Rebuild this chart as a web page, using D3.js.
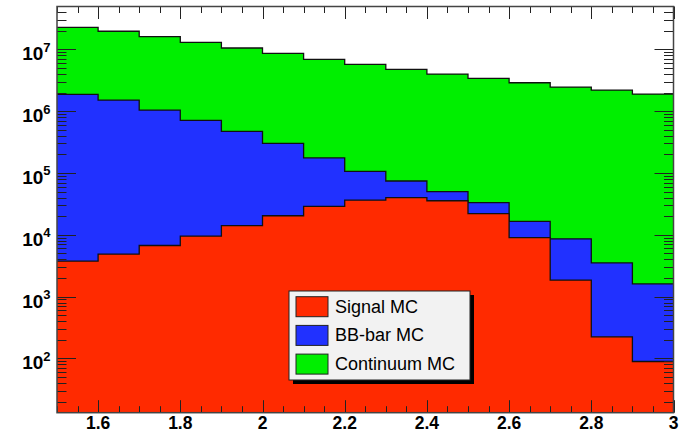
<!DOCTYPE html>
<html><head><meta charset="utf-8">
<script src="https://cdn.jsdelivr.net/npm/d3@7/dist/d3.min.js"></script>
<style>html,body{margin:0;padding:0;background:#fff;} svg{display:block;}</style>
</head><body><div id="chart"></div>
<script>
// Bin low edges (width 0.1) from 1.5 to 3.0
const binEdges = [1.5,1.6,1.7,1.8,1.9,2.0,2.1,2.2,2.3,2.4,2.5,2.6,2.7,2.8,2.9,3.0];
const seriesNames = ["Signal MC","BB-bar MC","Continuum MC"];
const signalMC = [3750,4870,6700,9500,14000,20300,28700,36300,40000,35500,22000,9000,1850,223,89];
const bbarMC = [1856000,1505000,1033000,700500,456000,279700,146300,69700,34000,14500,11000,7500,6750,3280,1510];
const continuumMC = [20840000,18090000,14960000,12290000,10030000,8300000,6725000,5594000,4676000,3930000,3367000,2864000,2441000,2187000,1888000];
const xTickValues = [1.6,1.8,2.0,2.2,2.4,2.6,2.8,3.0];
const yTickValues = [1e2,1e3,1e4,1e5,1e6,1e7];
const yDomain = [13.2, 4.93e7];

const W = 685, H = 433;
const L = 57, R = 673.5, T = 6.5, B = 412.7;
const colors = ["#ff2a00","#2131ff","#00ef00"];

const svg = d3.select("#chart").append("svg").attr("width",W).attr("height",H);
const x = d3.scaleLinear().domain([1.5,3.0]).range([L,R]);
const y = d3.scaleLog().domain(yDomain).range([B,T]);

// stacked cumulative
const layers = [signalMC, bbarMC, continuumMC];
const cum = [];
let run = signalMC.map(()=>0);
layers.forEach(s=>{ run = run.map((v,i)=>v+s[i]); cum.push(run.slice()); });

const g = svg.append("g");
g.append("rect").attr("x",L).attr("y",T).attr("width",R-L).attr("height",B-T).attr("fill","#fff");

const clip = svg.append("defs").append("clipPath").attr("id","frame")
  .append("rect").attr("x",L).attr("y",T).attr("width",R-L).attr("height",B-T);
const plot = g.append("g").attr("clip-path","url(#frame)");

for (let k = cum.length-1; k>=0; k--) {
  const vals = cum[k];
  const pts = vals.map((v,i)=>[binEdges[i], v]);
  pts.push([binEdges[binEdges.length-1], vals[vals.length-1]]);
  const area = d3.area().curve(d3.curveStepAfter)
    .x(d=>x(d[0])).y0(B).y1(d=>y(d[1]));
  const line = d3.line().curve(d3.curveStepAfter).x(d=>x(d[0])).y(d=>y(d[1]));
  plot.append("path").attr("d",area(pts)).attr("fill",colors[k]).attr("stroke","none");
  plot.append("path").attr("d",line(pts)).attr("fill","none").attr("stroke","#111").attr("stroke-width",1.3);
}

// ticks
const tk = g.append("g").attr("stroke","#222").attr("stroke-width",1);
const xMinor = d3.range(31).map(i=>1.5+i*0.05);
xMinor.forEach(v=>{
  const isMajor = Math.abs(Math.round(v*10)/10 - v) < 1e-9 && Math.round(v*10)%2===0;
  const len = isMajor ? 12.5 : 6.5;
  const xx = Math.round(x(v))+0.5;
  tk.append("line").attr("x1",xx).attr("x2",xx).attr("y1",B).attr("y2",B-len);
  tk.append("line").attr("x1",xx).attr("x2",xx).attr("y1",T).attr("y2",T+len);
});
const yTicksAll = [];
for (let e=1; e<=7; e++) for (let m=1; m<=9; m++) {
  const v = m*Math.pow(10,e);
  if (v>=yDomain[0] && v<=yDomain[1]) yTicksAll.push({v, major: m===1});
}
yTicksAll.forEach(t=>{
  const yy = Math.round(y(t.v))+0.5;
  const len = t.major ? 19 : 9.5;
  tk.append("line").attr("x1",L).attr("x2",L+len).attr("y1",yy).attr("y2",yy);
  tk.append("line").attr("x1",R).attr("x2",R-len).attr("y1",yy).attr("y2",yy);
});

// frame
g.append("rect").attr("x",L).attr("y",T).attr("width",R-L).attr("height",B-T)
  .attr("fill","none").attr("stroke","#444").attr("stroke-width",1.5);

// x labels
const fmt = v => (Math.abs(v-Math.round(v))<1e-9) ? String(Math.round(v)) : v.toFixed(1);
g.selectAll("text.xl").data(xTickValues).enter().append("text")
  .attr("x",d=>x(d)).attr("y",429).attr("text-anchor","middle")
  .attr("font-family","Liberation Sans, Arial, sans-serif").attr("font-weight","bold")
  .attr("font-size",17.5).attr("fill","#000").text(fmt);

// y labels
yTickValues.forEach(v=>{
  const e = Math.round(Math.log10(v));
  const t = g.append("text").attr("x",50.5).attr("y",y(v)+11).attr("text-anchor","end")
    .attr("font-family","Liberation Sans, Arial, sans-serif").attr("font-weight","bold")
    .attr("font-size",19).attr("fill","#000");
  t.append("tspan").text("10");
  t.append("tspan").attr("dy",-8.5).attr("font-size",13).text(String(e));
});

// legend
const lx = 289, ly = 291, lw = 181, lh = 89;
g.append("rect").attr("x",lx+4).attr("y",ly+4).attr("width",lw).attr("height",lh).attr("fill","#000");
g.append("rect").attr("x",lx).attr("y",ly).attr("width",lw).attr("height",lh)
  .attr("fill","#f2f2f2").attr("stroke","#222").attr("stroke-width",1);
seriesNames.forEach((n,i)=>{
  const ry = 296.7 + i*28.7;
  g.append("rect").attr("x",296).attr("y",ry).attr("width",32).attr("height",20)
    .attr("fill",colors[i]).attr("stroke","#222").attr("stroke-width",1);
  g.append("text").attr("x",335).attr("y",ry+16)
    .attr("font-family","Liberation Sans, Arial, sans-serif").attr("font-size",18)
    .attr("fill","#000").text(n);
});
</script></body></html>
